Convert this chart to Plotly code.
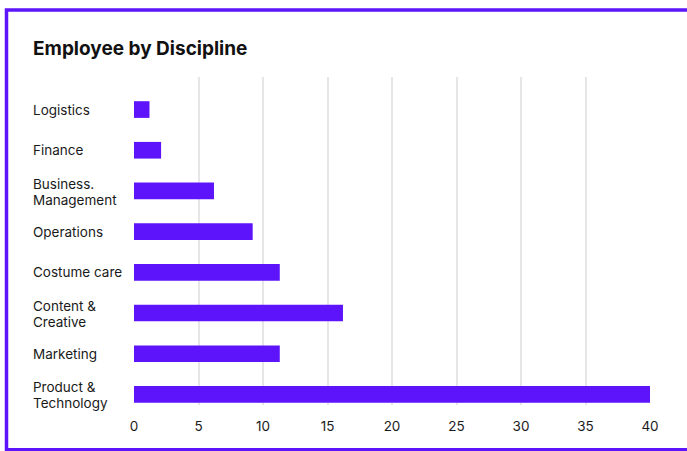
import plotly.graph_objects as go

categories = ["Logistics", "Finance", "Business.<br>Management", "Operations",
              "Costume care", "Content &<br>Creative", "Marketing", "Product &<br>Technology"]
values = [1.2, 2.1, 6.2, 9.2, 11.3, 16.2, 11.3, 40]
x_ticks = [0, 5, 10, 15, 20, 25, 30, 35, 40]

W, H = 687, 451
L, R, T, B = 134, 37, 77, 46
pw, ph = W - L - R, H - T - B

def px(x):
    return (x - L) / pw

def py(y):
    return (H - B - y) / ph

purple = "#5e14fa"
font_family = "Inter, 'Open Sans', sans-serif"

fig = go.Figure()
fig.add_trace(go.Bar(
    x=values, y=categories, orientation="h",
    marker=dict(color=purple, line=dict(width=0)),
    width=0.41, hoverinfo="x+y",
))

annotations = []
for c in categories:
    lines = c.split("<br>")
    shifts = [0] if len(lines) == 1 else [7, -9]
    for line, s in zip(lines, shifts):
        annotations.append(dict(
            text=line, x=px(31), xref="paper", y=c, yref="y", yshift=s,
            xanchor="left", yanchor="middle", align="left", showarrow=False,
            font=dict(family=font_family, size=13.5, color="#1a1a1a")))
annotations.append(dict(
    text="<b>Employee by Discipline</b>", x=px(31), xref="paper", y=py(48), yref="paper",
    xanchor="left", yanchor="middle", showarrow=False,
    font=dict(family=font_family, size=19, color="#111111")))

fig.update_layout(
    width=W, height=H,
    margin=dict(l=L, r=R, t=T, b=B, pad=0),
    paper_bgcolor="white", plot_bgcolor="white",
    showlegend=False,
    bargap=0.59,
    font=dict(family=font_family, size=13, color="#1a1a1a"),
    xaxis=dict(range=[0, 40], tickvals=x_ticks, showgrid=True, gridcolor="#e6e6e6",
               gridwidth=1.5, zeroline=False, showline=False, ticks="",
               ticklabelstandoff=11,
               tickfont=dict(size=13.5, color="#1a1a1a"), fixedrange=True),
    yaxis=dict(categoryorder="array", categoryarray=categories, range=[7.26, -0.8],
               showticklabels=False, showgrid=False, zeroline=False, showline=False,
               ticks="", fixedrange=True),
    annotations=annotations,
    shapes=[dict(type="rect", xref="paper", yref="paper",
                 x0=px(6.5), x1=px(720), y0=py(449.8), y1=py(10),
                 line=dict(color=purple, width=3.5), fillcolor="rgba(0,0,0,0)", layer="above")],
)

fig.write_html("out.html", config={"displayModeBar": False})
